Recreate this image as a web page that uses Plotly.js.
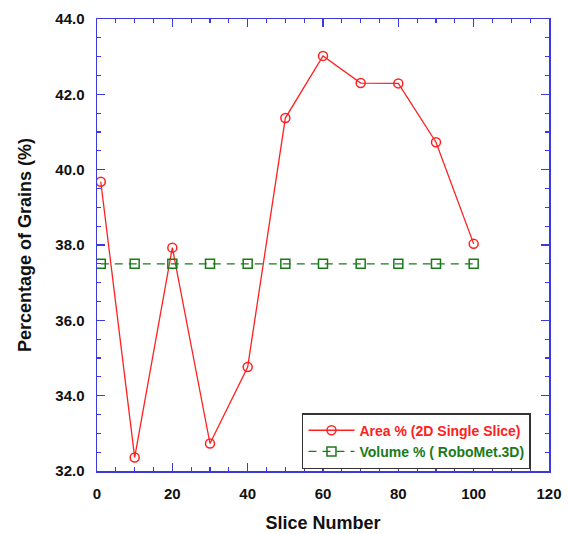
<!DOCTYPE html>
<html>
<head>
<meta charset="utf-8">
<script src="https://cdn.plot.ly/plotly-3.0.1.min.js"></script>
<style>html,body{margin:0;padding:0;background:#fff;}#chart{width:568px;height:534px;}</style>
</head>
<body>
<div id="chart"></div>
<script>
const sliceNumbers = [1, 10, 20, 30, 40, 50, 60, 70, 80, 90, 100];
const areaPercent = [39.68, 32.36, 37.93, 32.73, 34.76, 41.37, 43.02, 42.30, 42.29, 40.73, 38.03];
const volumePercent = [37.5, 37.5, 37.5, 37.5, 37.5, 37.5, 37.5, 37.5, 37.5, 37.5, 37.5];
const seriesNames = ['Area % (2D Single Slice)', 'Volume % ( RoboMet.3D)'];

const red = '#ff2020';
const green = '#1a7a1a';
const blue = '#3a3add';
const fontFam = 'Liberation Sans, Arial, sans-serif';

const traces = [
  {
    x: sliceNumbers, y: areaPercent, type: 'scatter', mode: 'lines+markers',
    name: '<span style="color:' + red + '">' + seriesNames[0] + '</span>',
    line: {color: red, width: 1.3},
    marker: {symbol: 'circle-open', size: 9, color: red, line: {width: 1.5, color: red}}
  },
  {
    x: sliceNumbers, y: volumePercent, type: 'scatter', mode: 'lines+markers',
    name: '<span style="color:' + green + '">' + seriesNames[1] + '</span>',
    line: {color: green, width: 1.3, dash: '8px,6px'},
    marker: {symbol: 'square-open', size: 9, color: green, line: {width: 1.5, color: green}}
  }
];

const axisCommon = {
  showline: true, linecolor: blue, linewidth: 1.5, mirror: 'ticks',
  ticks: 'inside', tickcolor: blue, ticklen: 8, tickwidth: 1.5,
  showgrid: false, zeroline: false,
  tickfont: {family: fontFam, size: 15, color: '#111', weight: 'bold'}
};

const layout = {
  width: 568, height: 534,
  margin: {l: 97, r: 19, t: 19, b: 63},
  paper_bgcolor: '#fff', plot_bgcolor: '#fff',
  showlegend: true,
  xaxis: Object.assign({}, axisCommon, {
    range: [0, 120], dtick: 20, tick0: 0, ticklabelstandoff: 8,
    minor: {dtick: 5, ticks: 'inside', ticklen: 4, tickcolor: blue, tickwidth: 1.2},
    title: {text: 'Slice Number', font: {family: fontFam, size: 18, color: '#111', weight: 'bold'}, standoff: 16}
  }),
  yaxis: Object.assign({}, axisCommon, {
    range: [32, 44], dtick: 2, tick0: 32, tickformat: '.1f', ticklabelstandoff: 8,
    minor: {dtick: 0.5, ticks: 'inside', ticklen: 4, tickcolor: blue, tickwidth: 1.2},
    title: {text: 'Percentage of Grains (%)', font: {family: fontFam, size: 18, color: '#111', weight: 'bold'}, standoff: 19}
  }),
  legend: {
    x: 0.4535, y: 0.128, xanchor: 'left', yanchor: 'top',
    bgcolor: '#fff', bordercolor: '#333', borderwidth: 1.5,
    font: {family: fontFam, size: 14, weight: 'bold'},
    tracegroupgap: 0, itemwidth: 46
  }
};

Plotly.newPlot('chart', traces, layout, {displayModeBar: false, staticPlot: true});
</script>
</body>
</html>
